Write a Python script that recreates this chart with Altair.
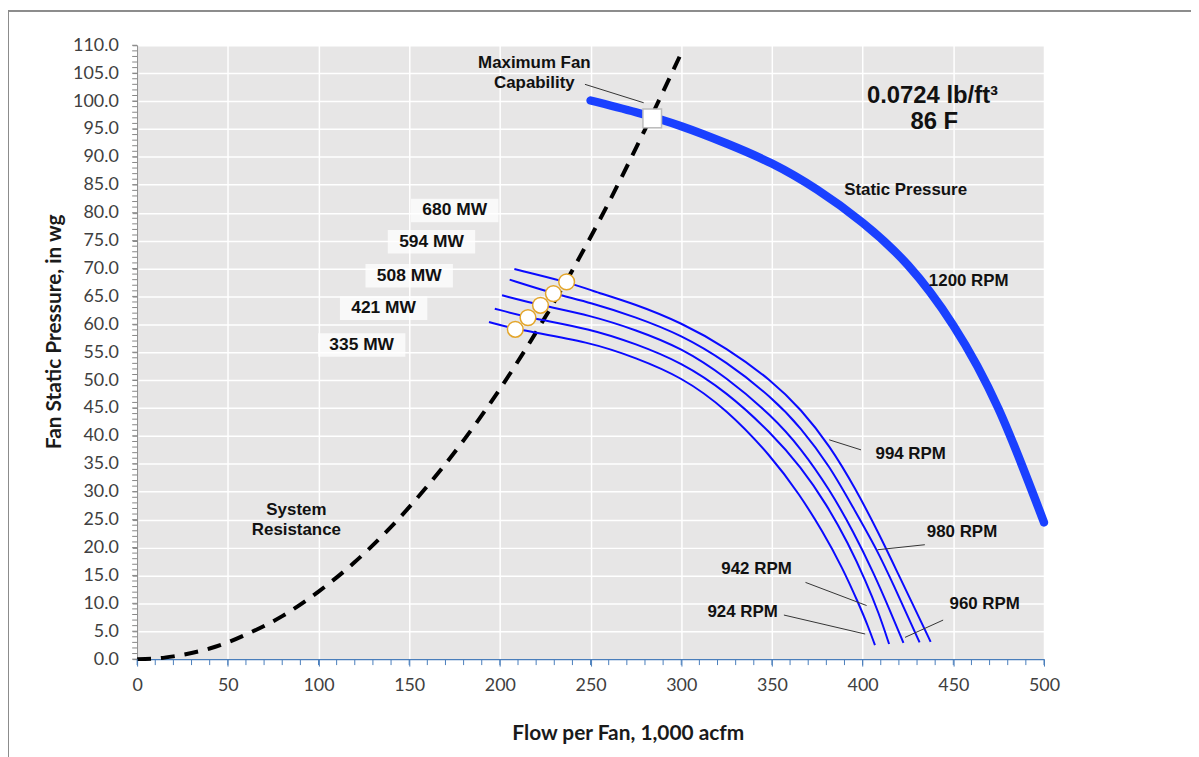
import altair as alt
import pandas as pd

# ---------------- data ----------------
# System resistance (dashed)
sr_flow = [0, 10, 20, 30, 40, 50, 60, 80, 100, 120, 140, 160, 180, 200, 220, 240, 260, 280, 300]
sr_press = [0.0, 0.1, 0.5, 1.1, 1.9, 3.0, 4.4, 7.7, 12.1, 17.4, 23.7, 31.0, 39.2, 48.4, 58.6, 69.7, 81.8, 94.9, 108.6]

# 1200 RPM static pressure curve (thick)
sp_flow = [250, 275, 300, 325, 350, 375, 400, 425, 450, 475, 500]
sp_press = [100.1, 98.0, 95.5, 92.4, 88.8, 84.1, 78.2, 70.6, 59.8, 44.8, 24.5]

# Reduced-speed fan curves
rpm_994_flow = [208, 237, 250, 275, 300, 325, 350, 366, 382, 396, 409, 420, 429, 437.5]
rpm_994_press = [69.9, 67.6, 66.1, 63.6, 60.3, 55.8, 49.9, 44.8, 38.2, 30.6, 22.5, 15.0, 8.9, 3.1]
rpm_980_flow = [205.4, 229.5, 250, 275, 300, 325, 350, 366, 382, 395, 408, 418, 425, 431.4]
rpm_980_press = [68.0, 65.5, 63.9, 61.3, 58.1, 53.3, 46.9, 41.5, 34.5, 27.0, 19.6, 12.6, 7.6, 3.0]
rpm_960_flow = [201.2, 222.4, 250, 275, 300, 325, 350, 366, 382, 395, 406, 415, 422.5]
rpm_960_press = [65.2, 63.4, 61.6, 59.0, 55.8, 50.5, 43.6, 37.8, 30.3, 22.8, 15.5, 8.8, 2.9]
rpm_942_flow = [197.2, 215.5, 250, 275, 300, 325, 350, 366, 380, 392, 402, 409, 414.6]
rpm_942_press = [62.8, 61.2, 59.2, 56.5, 53.2, 47.9, 40.4, 34.4, 27.8, 20.8, 13.8, 8.2, 2.7]
rpm_924_flow = [194, 208.5, 250, 275, 300, 325, 350, 365, 378, 389, 398, 403, 406.8]
rpm_924_press = [60.4, 59.1, 56.8, 54.0, 50.6, 44.8, 36.2, 29.6, 22.9, 16.3, 9.8, 5.9, 2.5]

# Operating points (circles) and max capability (square)
op_flow = [208.5, 215.5, 222.4, 229.5, 236.8]
op_press = [59.1, 61.2, 63.4, 65.5, 67.6]
max_flow = [284.0]
max_press = [96.9]

# MW labels
mw_text = ["335 MW", "421 MW", "508 MW", "594 MW", "680 MW"]
mw_x = [123.8, 135.9, 150.0, 162.3, 175.1]
mw_y = [56.3, 62.9, 68.7, 74.8, 80.4]

# Annotation labels
ann_text = ["Maximum Fan", "Capability", "Static Pressure", "1200 RPM", "994 RPM",
            "980 RPM", "960 RPM", "942 RPM", "924 RPM", "System", "Resistance"]
ann_x = [219.0, 219.0, 423.7, 458.5, 426.5, 454.8, 467.3, 341.5, 333.8, 87.8, 87.8]
ann_y = [106.8, 103.3, 84.1, 67.7, 36.8, 22.7, 9.8, 16.1, 8.4, 26.7, 23.1]

big_text = ["0.0724 lb/ft\u00b3", "86 F"]
big_x = [438.5, 439.5]
big_y = [100.9, 96.2]

# Leader lines
lead_x1 = [246.9, 381.6, 408.2, 368.5, 356.6, 444.4]
lead_y1 = [103.0, 39.3, 19.6, 13.75, 7.9, 7.0]
lead_x2 = [279.3, 399.1, 434.3, 402.2, 401.4, 423.4]
lead_y2 = [99.7, 37.5, 20.5, 9.6, 4.5, 3.9]

# Axis ticks
x_major = list(range(0, 501, 50))
x_minor = list(range(0, 501, 10))
y_major = list(range(0, 111, 5))
y_minor = list(range(0, 111, 1))

# ---------------- build tables ----------------
W, H = 913, 618
xs = alt.Scale(domain=[0, 500], nice=False, zero=False)
ys = alt.Scale(domain=[0, 110], nice=False, zero=False)

x_axis = alt.Axis(
    values=x_major, title="Flow per Fan, 1,000 acfm", grid=True,
    gridColor="white", gridWidth=1.5, domainColor="#4a7ebb", domainWidth=1.5,
    tickColor="#4a7ebb", tickSize=7, labelFont="Lato", labelFontSize=18,
    labelColor="#404040", labelPadding=11, labelFlush=False,
    titleFont="Lato", titleFontSize=21,
    titleFontWeight="bold", titleColor="#1a1a1a", titleX=494, titleY=75,
    titleBaseline="middle", titleAlign="center")
y_axis = alt.Axis(
    values=y_major, format=".1f", title="Fan Static Pressure, in wg", grid=True,
    gridColor="white", gridWidth=1.5, domainColor="#868686", tickColor="#868686",
    tickSize=5, labelFont="Lato", labelFontSize=18, labelColor="#404040",
    labelPadding=14, labelFlush=False, titleFont="Lato", titleFontSize=21,
    titleFontWeight="bold",
    titleColor="#1a1a1a", titleX=-83, titleY=288, titleBaseline="middle",
    titleAlign="center", titleAngle=270)


def X(f):
    return alt.X(f, type="quantitative", scale=xs, axis=x_axis)


def Y(f):
    return alt.Y(f, type="quantitative", scale=ys, axis=y_axis)


sr_df = pd.DataFrame({"flow": sr_flow, "press": sr_press})
sp_df = pd.DataFrame({"flow": sp_flow, "press": sp_press})
rows = []
for rpm, fl, pr in [(994, rpm_994_flow, rpm_994_press), (980, rpm_980_flow, rpm_980_press),
                    (960, rpm_960_flow, rpm_960_press), (942, rpm_942_flow, rpm_942_press),
                    (924, rpm_924_flow, rpm_924_press)]:
    for f, p in zip(fl, pr):
        rows.append({"rpm": rpm, "flow": f, "press": p})
rpm_df = pd.DataFrame(rows)
op_df = pd.DataFrame({"flow": op_flow, "press": op_press})
max_df = pd.DataFrame({"flow": max_flow, "press": max_press})
mw_df = pd.DataFrame({"t": mw_text, "x": mw_x, "y": mw_y})
ann_df = pd.DataFrame({"t": ann_text, "x": ann_x, "y": ann_y})
big_df = pd.DataFrame({"t": big_text, "x": big_x, "y": big_y})
lead_df = pd.DataFrame({"x1": lead_x1, "y1": lead_y1, "x2": lead_x2, "y2": lead_y2})
xmin_df = pd.DataFrame({"v": x_minor})
ymin_df = pd.DataFrame({"v": y_minor})

sr = alt.Chart(sr_df).mark_line(
    color="black", strokeWidth=4, strokeDash=[14, 10], interpolate="monotone"
).encode(x=X("flow"), y=Y("press"))

ymin = alt.Chart(ymin_df).mark_rule(color="#868686", strokeWidth=1).encode(
    y=Y("v"), x=alt.value(-5), x2=alt.value(0))
xmin = alt.Chart(xmin_df).mark_rule(color="#4a7ebb", strokeWidth=1).encode(
    x=X("v"), y=alt.value(H), y2=alt.value(H + 6))

sp = alt.Chart(sp_df).mark_line(color="#1a40ff", strokeWidth=8.5, strokeCap="round",
                                interpolate="natural").encode(x=X("flow"), y=Y("press"))
rpm = alt.Chart(rpm_df).mark_line(color="#0a0aff", strokeWidth=2,
                                  interpolate="basis").encode(
    x=X("flow"), y=Y("press"), detail="rpm:N")

ops = alt.Chart(op_df).mark_point(shape="circle", filled=True, fill="white", size=250,
                                  stroke="#e3a52a", strokeWidth=1.5, opacity=1).encode(
    x=X("flow"), y=Y("press"))
mx = alt.Chart(max_df).mark_point(shape="square", filled=True, fill="white", size=350,
                                  stroke="#bdbdbd", strokeWidth=1.5, opacity=1).encode(
    x=X("flow"), y=Y("press"))

leads = alt.Chart(lead_df).mark_rule(color="#333333", strokeWidth=1).encode(
    x=X("x1"), y=Y("y1"), x2="x2:Q", y2="y2:Q")

mw_box = alt.Chart(mw_df).mark_point(
    shape="M-1,-0.27H1V0.27H-1Z", filled=True, fill="white", fillOpacity=0.75,
    size=88 * 88, strokeWidth=0).encode(x=X("x"), y=Y("y"))
mw_lab = alt.Chart(mw_df).mark_text(font="Liberation Sans", fontWeight="bold", fontSize=17.5,
                                    color="#111111", align="center", baseline="middle").encode(
    x=X("x"), y=Y("y"), text="t:N")
ann = alt.Chart(ann_df).mark_text(font="Liberation Sans", fontWeight="bold", fontSize=17,
                                  color="#111111", align="center", baseline="middle").encode(
    x=X("x"), y=Y("y"), text="t:N")
big = alt.Chart(big_df).mark_text(font="Liberation Sans", fontWeight="bold", fontSize=24,
                                  color="#111111", align="center", baseline="middle").encode(
    x=X("x"), y=Y("y"), text="t:N")

frame_l = alt.Chart(sr_df).mark_rule(color="#8c8c8c", strokeWidth=1).encode(
    x=alt.value(-129.5), y=alt.value(-34.5), y2=alt.value(H + 120))
frame_t = alt.Chart(sr_df).mark_rule(color="#8c8c8c", strokeWidth=1).encode(
    x=alt.value(-129.5), x2=alt.value(W + 160), y=alt.value(-34.5))

chart = alt.layer(
    sr, ymin, xmin, rpm, sp, ops, mx, leads, mw_box, mw_lab, ann, big, frame_l, frame_t
).properties(
    width=W, height=H,
    padding={"left": 130, "top": 35, "right": 148, "bottom": 96},
    autosize=alt.AutoSizeParams(type="none"),
    background="white",
).configure_view(fill="#e7e6e6", stroke=None)

chart.save("out.html", embed_options={"renderer": "svg", "actions": False})
